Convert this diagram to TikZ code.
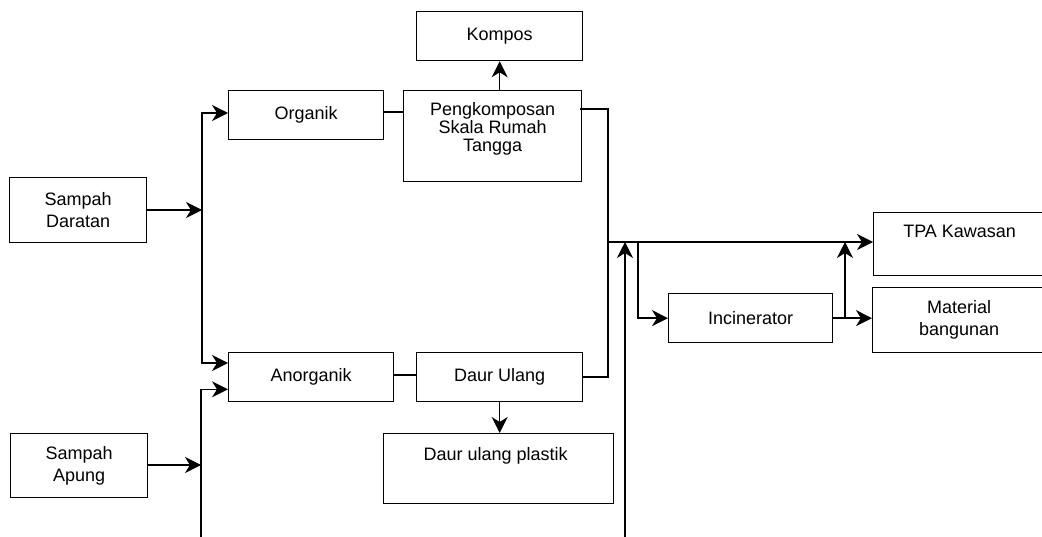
\documentclass[tikz,border=0pt]{standalone}
\usepackage{fontspec}
\setmainfont{Liberation Sans}
\usetikzlibrary{arrows.meta,calc}
\begin{document}
\begin{tikzpicture}[x=1pt,y=-1pt,
  box/.style={draw=black,line width=1.3pt,rectangle,anchor=north west,inner sep=0pt,align=center,
    font=\fontsize{18}{22}\selectfont},
  lbl/.style={inner sep=0pt,anchor=base,font=\fontsize{18}{22}\selectfont},
  conn/.style={draw=black,line width=1.3pt},
  arr/.style={conn,-{Stealth[length=16pt,width=16pt,inset=5pt]}}]
\useasboundingbox (0,0) rectangle (1042,537);
\fill[white] (0,0) rectangle (1042,537);
% boxes
\node[box,minimum width=137pt,minimum height=65pt] (sd) at (9,177) {Sampah\\Daratan};
\node[box,minimum width=137pt,minimum height=64pt] (sa) at (10,433) {Sampah\\Apung};
\node[box,minimum width=155pt,minimum height=49pt] (org) at (228,90) {Organik};
\node[box,minimum width=165pt,minimum height=49pt] (anorg) at (228,352) {Anorganik};
\node[box,minimum width=178pt,minimum height=91pt] (peng) at (403,90) {};
\node[lbl,anchor=center,align=center,font=\fontsize{18}{18}\selectfont] (pengt) at ($(peng.center)+(0,-7)$) {Pengkomposan\\Skala Rumah\\Tangga};
\node[box,minimum width=166pt,minimum height=49pt] (kompos) at (416,11) {Kompos};
\node[box,minimum width=166pt,minimum height=49pt] (du) at (416,352) {Daur Ulang};
\node[box,minimum width=230pt,minimum height=70pt] (dup) at (383,433) {};
\node[lbl] (dupt) at ($(dup.north)+(-3,27)$) {Daur ulang plastik};
\node[box,minimum width=164pt,minimum height=49pt] (inc) at (668,293) {Incinerator};
\node[box,minimum width=172pt,minimum height=63pt] (tpa) at (873,212) {};
\node[lbl] (tpat) at ($(tpa.north)+(0,26)$) {TPA Kawasan};
\node[box,minimum width=173pt,minimum height=65pt] (mat) at (872,287) {Material\\bangunan};
% junction coordinates
\coordinate (jl) at (202,210);
\coordinate (jsa) at (201,465);
\coordinate (bl) at (201,537);
\coordinate (pe) at ($(peng.north east)+(-2,19)$);
\coordinate (jr) at (608,242);
\coordinate (bu) at (625,537);
\coordinate (ju) at (625,242);
\coordinate (ji) at (638,242);
\coordinate (jm) at (845,318);
% connectors
\draw[arr] (sd.east |- jl) -- (jl);
\draw[conn] (jl) -- (202,363);
\draw[arr] (jl) |- (org.west |- 0,113);
\draw[arr] (jl) |- ($(anorg.north west)+(0,11)$);
\draw[arr] (sa.east |- jsa) -- (jsa);
\draw[arr] (bl) |- ($(anorg.south west)+(0,-13)$);
\draw[conn] (org.east |- 0,112) -- (peng.west |- 0,112);
\draw[arr] (kompos.south |- peng.north) -- (kompos.south);
\draw[conn] (pe) -| (jr) |- (du.east);
\draw[conn] (anorg.east |- 0,375) -- (du.west |- 0,375);
\draw[arr] (du.south) -- (du.south |- dup.north);
\draw[arr] (jr) -- (jr -| tpa.west);
\draw[arr] (bu) -- (ju);
\draw[arr] (ji) |- (inc.west);
\draw[arr] (inc.east) -- (inc.east -| mat.west);
\draw[arr] (jm) -- (jm |- jr);
\end{tikzpicture}
\end{document}
